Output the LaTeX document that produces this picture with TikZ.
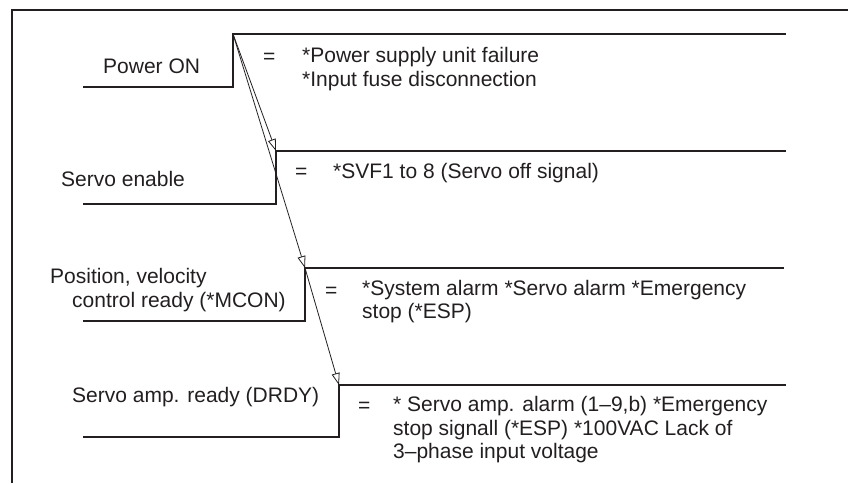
\documentclass[tikz,border=0pt]{standalone}
\usepackage{fontspec}
\setmainfont{Liberation Sans}
\usetikzlibrary{arrows.meta}
\definecolor{ink}{HTML}{231F20}
\begin{document}
\begin{tikzpicture}[x=1pt,y=-1pt,
  sig/.style={draw=ink,line width=1.9pt},
  framed/.style={draw=ink,line width=1.8pt},
  seq/.style={draw=ink,line width=0.8pt,-{Triangle[open,length=12pt,width=8pt,fill=white]}},
  lbl/.style={anchor=base west,inner sep=0pt,text=ink,font=\fontsize{21}{23.3}\selectfont},
  txt/.style={lbl,anchor=north west,align=left}]
\useasboundingbox (0,0) rectangle (848,483);
% frame
\coordinate (fb) at (12,483);
\coordinate (ftl) at (12,10);
\coordinate (fr) at (848,10);
\draw[framed] (fb) -- (ftl) -- (fr);
% signal corners
\coordinate (a0) at (83,87);  \coordinate (a1) at (233,87);  \coordinate (a2) at (233,34);  \coordinate (a3) at (786,34);
\coordinate (b0) at (83,204); \coordinate (b1) at (276,204); \coordinate (b2) at (276,151); \coordinate (b3) at (786,151);
\coordinate (c0) at (83,321); \coordinate (c1) at (305,321); \coordinate (c2) at (305,268); \coordinate (c3) at (784,268);
\coordinate (d0) at (83,437); \coordinate (d1) at (339,437); \coordinate (d2) at (339,385); \coordinate (d3) at (786,385);
% sequence arrows
\draw[seq] (a2) -- (b2);
\draw[seq] (a2) -- (c2);
\draw[seq] (c2) -- (d2);
\draw[sig] (a0) -- (a1) -- (a2) -- (a3);
\draw[sig] (b0) -- (b1) -- (b2) -- (b3);
\draw[sig] (c0) -- (c1) -- (c2) -- (c3);
\draw[sig] (d0) -- (d1) -- (d2) -- (d3);
% labels
\node[lbl] (lpow) at (103,73) {Power ON};
\node[lbl] (eq1) at (263,63) {=};
\node[txt] (t1) at (302,47.4) {*Power supply unit failure\\*Input fuse disconnection};
\node[lbl] (lsv) at (61,186.5) {Servo enable};
\node[lbl] (eq2) at (295,178) {=};
\node[lbl] (t2) at (333,178) {*SVF1 to 8 (Servo off signal)};
\node[lbl] (lpos1) at (50,283) {Position, velocity};
\node[lbl] (lpos2) at (72,307) {control ready (*MCON)};
\node[lbl] (eq3) at (325,297) {=};
\node[txt] (t3) at (362,279.7) {*System alarm *Servo alarm *Emergency\\stop (*ESP)};
\node[lbl] (lamp) at (72,402) {Servo amp. ready (DRDY)};
\node[lbl] (eq4) at (358,412) {=};
\node[txt] (t4) at (393,396.4) {* Servo amp. alarm (1–9,b) *Emergency\\stop signall (*ESP) *100VAC Lack of\\3–phase input voltage};
\end{tikzpicture}
\end{document}
